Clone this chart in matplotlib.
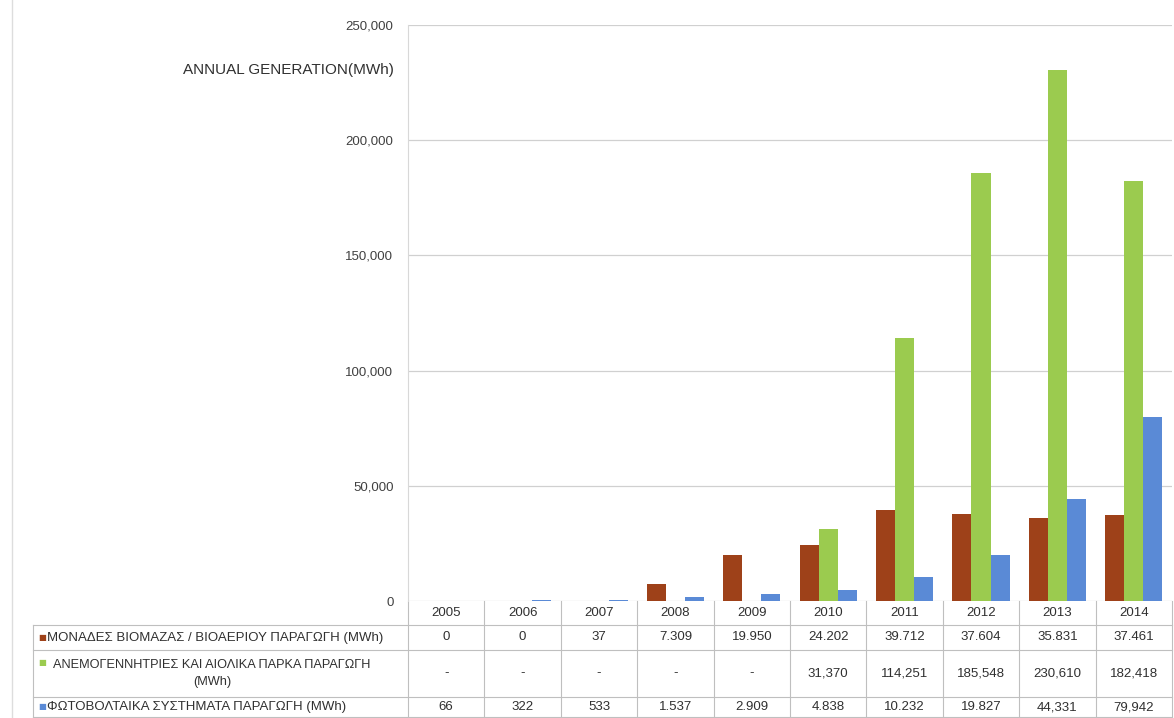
import numpy as np
import matplotlib
matplotlib.use("Agg")
import matplotlib.pyplot as plt
import matplotlib.transforms as mtransforms
from matplotlib.lines import Line2D

plt.rcParams['font.family'] = ['Liberation Sans', 'DejaVu Sans']

years = ['2005', '2006', '2007', '2008', '2009', '2010', '2011', '2012', '2013', '2014']

biomass = [0, 0, 37, 7309, 19950, 24202, 39712, 37604, 35831, 37461]
wind = [np.nan, np.nan, np.nan, np.nan, np.nan, 31370, 114251, 185548, 230610, 182418]
pv = [66, 322, 533, 1537, 2909, 4838, 10232, 19827, 44331, 79942]

biomass_txt = ['0', '0', '37', '7.309', '19.950', '24.202', '39.712', '37.604', '35.831', '37.461']
wind_txt = ['-', '-', '-', '-', '-', '31,370', '114,251', '185,548', '230,610', '182,418']
pv_txt = ['66', '322', '533', '1.537', '2.909', '4.838', '10.232', '19.827', '44,331', '79,942']

series_names = ['ΜΟΝΑΔΕΣ ΒΙΟΜΑΖΑΣ / ΒΙΟΑΕΡΙΟΥ ΠΑΡΑΓΩΓΗ (MWh)',
                'ΑΝΕΜΟΓΕΝΝΗΤΡΙΕΣ ΚΑΙ ΑΙΟΛΙΚΑ ΠΑΡΚΑ ΠΑΡΑΓΩΓΗ\n(MWh)',
                'ΦΩΤΟΒΟΛΤΑΙΚΑ ΣΥΣΤΗΜΑΤΑ ΠΑΡΑΓΩΓΗ (MWh)']
colors = ['#9E4119', '#9BCB4F', '#5A8AD6']

W, H = 1174, 718
fig = plt.figure(figsize=(W / 100, H / 100), dpi=100)
ax = fig.add_axes([408 / W, 1 - 601 / H, (1172 - 408) / W, (601 - 25) / H])

x = np.arange(len(years))
bw = 0.25
for k, vals in enumerate([biomass, wind, pv]):
    ax.bar(x + (k - 1) * bw, vals, width=bw, color=colors[k], zorder=3)

ax.set_xlim(-0.5, len(years) - 0.5)
ax.set_ylim(0, 250000)
ax.set_yticks(np.arange(0, 250001, 50000))
ax.set_yticklabels(['{:,}'.format(v) for v in range(0, 250001, 50000)], fontsize=9.5, color='#404040')
ax.tick_params(axis='y', length=0, pad=10.5)
ax.set_xticks([])
ax.grid(axis='y', color='#d0d0d0', linewidth=0.9, zorder=0)
for s in ['top', 'right', 'bottom']:
    ax.spines[s].set_visible(False)
ax.spines['left'].set_color('#d8d8d8')

fig.text(394 / W, 1 - 70 / H, 'ANNUAL GENERATION(MWh)', ha='right', va='center',
         fontsize=11, color='#303030')

# page edge line on the far left
fig.add_artist(Line2D([12 / W, 12 / W], [0, 1], color='#dddddd', linewidth=1))

# data table under the axes
tr = mtransforms.blended_transform_factory(ax.transData, fig.transFigure)
fy = lambda py: 1 - py / H
row_edges = [601, 625, 650, 697, 717]
line_c = '#bfbfbf'
fs = 9.5

for i, yr in enumerate(years):
    ax.text(i, fy(613), yr, transform=tr, ha='center', va='center', fontsize=fs, color='#303030', clip_on=False)
for r, txts in enumerate([biomass_txt, wind_txt, pv_txt]):
    yc = fy((row_edges[r + 1] + row_edges[r + 2]) / 2)
    for i, t in enumerate(txts):
        ax.text(i, yc, t, transform=tr, ha='center', va='center', fontsize=fs, color='#303030', clip_on=False)

# vertical separators
for i in range(len(years) + 1):
    ax.add_artist(Line2D([i - 0.5, i - 0.5], [fy(601), fy(717)], transform=tr,
                         color=line_c, linewidth=0.8, clip_on=False))
# horizontal lines
for py in row_edges[1:]:
    fig.add_artist(Line2D([33 / W, 1172 / W], [fy(py), fy(py)], color=line_c, linewidth=0.8))
fig.add_artist(Line2D([33 / W, 33 / W], [fy(625), fy(717)], color=line_c, linewidth=0.8))

# row labels with colour keys
for r, name in enumerate(series_names):
    top, bot = row_edges[r + 1], row_edges[r + 2]
    yc = fy((top + bot) / 2)
    if '\n' in name:
        fig.text(38 / W, fy(top + 12), '■', family='DejaVu Sans', fontsize=6, color=colors[r], ha='left', va='center')
        fig.text(212 / W, yc, name, ha='center', va='center', fontsize=fs - 0.3, color='#303030', linespacing=1.5)
    else:
        fig.text(38 / W, yc, '■', family='DejaVu Sans', fontsize=6, color=colors[r], ha='left', va='center')
        fig.text(47 / W, yc, name, ha='left', va='center', fontsize=fs, color='#303030')

fig.savefig('out.png', dpi=100)
